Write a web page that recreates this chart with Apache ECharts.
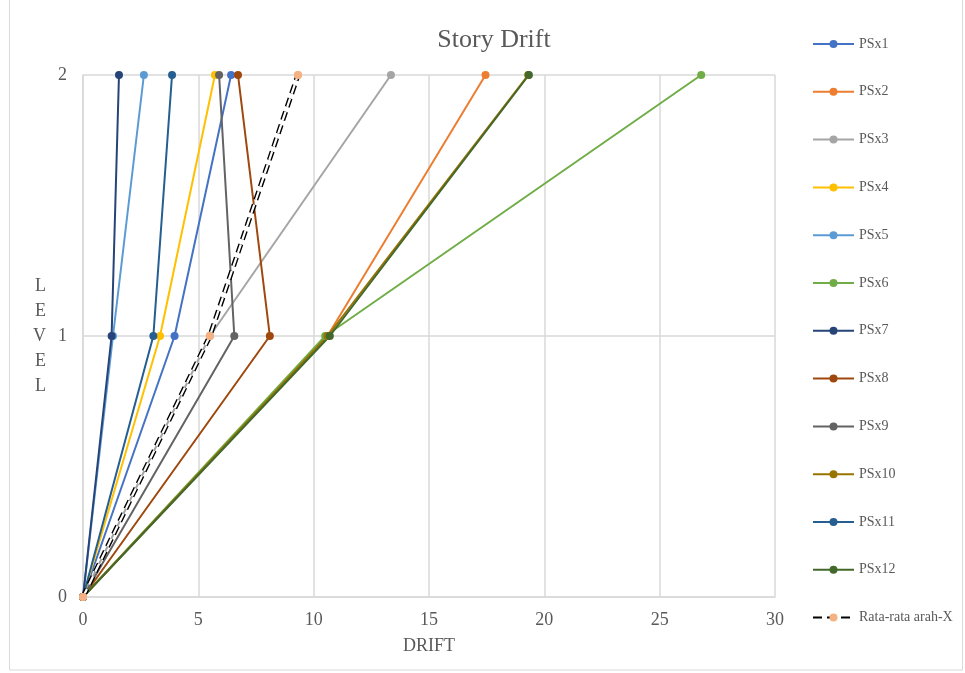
<!DOCTYPE html>
<html>
<head>
<meta charset="utf-8">
<script src="https://cdn.jsdelivr.net/npm/echarts@6/dist/echarts.min.js"></script>
<style>
  html, body { margin: 0; padding: 0; background: #fff; }
  #chart { width: 965px; height: 673px; }
</style>
</head>
<body>
<div id="chart"></div>
<script>
  'use strict'
  // level of each point (0, 1, 2)
  var levels = [0, 1, 2];
  var names = ['PSx1', 'PSx2', 'PSx3', 'PSx4', 'PSx5', 'PSx6',
               'PSx7', 'PSx8', 'PSx9', 'PSx10', 'PSx11', 'PSx12'];
  var psx1 = [0, 3.97, 6.42];
  var psx2 = [0, 10.6, 17.45];
  var psx3 = [0, 5.5, 13.35];
  var psx4 = [0, 3.34, 5.72];
  var psx5 = [0, 1.3, 2.64];
  var psx6 = [0, 10.5, 26.8];
  var psx7 = [0, 1.24, 1.56];
  var psx8 = [0, 8.1, 6.72];
  var psx9 = [0, 6.56, 5.9];
  var psx10 = [0, 10.6, 19.3];
  var psx11 = [0, 3.05, 3.86];
  var psx12 = [0, 10.7, 19.33];
  var rata = [0, 5.5, 9.32];
  var xTicks = [0, 5, 10, 15, 20, 25, 30];
  var yTicks = [0, 1, 2];

  var driftValues = [psx1, psx2, psx3, psx4, psx5, psx6, psx7, psx8, psx9, psx10, psx11, psx12];
  var colors = ['#4472c4', '#ed7d31', '#a5a5a5', '#ffc000', '#5b9bd5', '#70ad47',
                '#264478', '#9e480e', '#636363', '#997300', '#255e91', '#43682b'];

  function toPoints(xs) {
    return xs.map(function (v, i) { return [v, levels[i]]; });
  }

  var series = names.map(function (n, i) {
    return {
      name: n,
      type: 'line',
      data: toPoints(driftValues[i]),
      symbol: 'circle',
      symbolSize: 8,
      itemStyle: { color: colors[i] },
      lineStyle: { color: colors[i], width: 2 }
    };
  });
  // average: black dashed outline with white core
  series.push({
    name: 'Rata-rata arah-X',
    type: 'line',
    data: toPoints(rata),
    symbol: 'circle',
    symbolSize: 8,
    itemStyle: { color: '#f4b183' },
    lineStyle: { color: '#000', width: 5, type: [9, 5] },
    z: 3
  });
  series.push({
    name: 'rata-core',
    type: 'line',
    data: toPoints(rata),
    symbol: 'none',
    lineStyle: { color: '#fff', width: 2.2, type: [9, 5] },
    silent: true,
    z: 3
  });
  series.push({
    name: 'rata-marks',
    type: 'line',
    data: toPoints(rata),
    symbol: 'circle',
    symbolSize: 8,
    itemStyle: { color: '#f4b183' },
    lineStyle: { width: 0 },
    silent: true,
    z: 4
  });

  var font = '"Liberation Serif", "DejaVu Serif", serif';
  var option = {
    animation: false,
    title: {
      text: 'Story Drift',
      left: 489,
      top: 22,
      textAlign: 'center',
      textStyle: { fontFamily: font, fontSize: 26, fontWeight: 'normal', color: '#595959' }
    },
    legend: {
      orient: 'vertical',
      left: 807,
      top: 32,
      height: 640,
      itemWidth: 41,
      itemHeight: 10,
      itemGap: 33.8,
      data: names.concat(['Rata-rata arah-X']),
      textStyle: { fontFamily: font, fontSize: 14, color: '#595959' }
    },
    grid: { left: 83, right: 190, top: 75, bottom: 76 },
    xAxis: {
      type: 'value',
      min: 0, max: 30, interval: 5,
      name: 'DRIFT',
      nameLocation: 'middle',
      nameGap: 40,
      nameTextStyle: { fontFamily: font, fontSize: 18, color: '#595959' },
      axisLine: { show: true, lineStyle: { color: '#d9d9d9', width: 1.5 } },
      axisTick: { show: false },
      axisLabel: {
        fontFamily: font, fontSize: 18, color: '#595959', margin: 14,
        formatter: function (v) { return xTicks.indexOf(v) >= 0 ? v : ''; }
      },
      splitLine: { show: true, lineStyle: { color: '#d9d9d9', width: 1.5 } }
    },
    yAxis: {
      type: 'value',
      min: 0, max: 2, interval: 1,
      name: 'L\nE\nV\nE\nL',
      nameLocation: 'middle',
      nameRotate: 0,
      nameGap: 37,
      nameTextStyle: { fontFamily: font, fontSize: 18, color: '#595959', lineHeight: 25 },
      axisLine: { show: true, lineStyle: { color: '#d9d9d9', width: 1.5 } },
      axisTick: { show: false },
      axisLabel: {
        fontFamily: font, fontSize: 18, color: '#595959', margin: 16,
        formatter: function (v) { return yTicks.indexOf(v) >= 0 ? v : ''; }
      },
      splitLine: { show: true, lineStyle: { color: '#d9d9d9', width: 1.5 } }
    },
    graphic: [{
      type: 'rect',
      shape: { x: 9.5, y: -1, width: 953, height: 671 },
      style: { fill: 'none', stroke: '#d9d9d9', lineWidth: 1 },
      silent: true
    }],
    series: series
  };

  var chart = echarts.init(document.getElementById('chart'));
  chart.setOption(option);
</script>
</body>
</html>
